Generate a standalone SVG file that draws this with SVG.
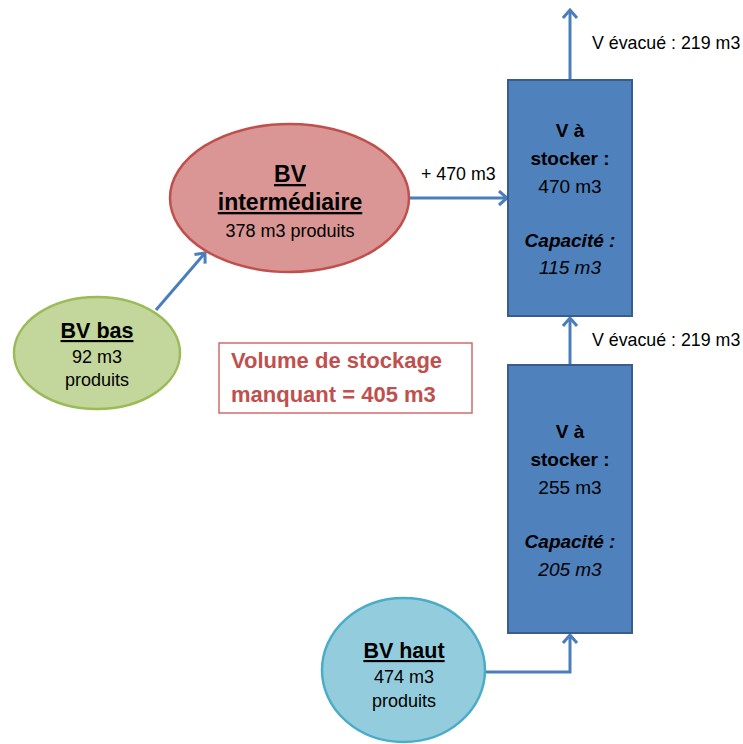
<svg xmlns="http://www.w3.org/2000/svg" width="743" height="744" viewBox="0 0 743 744">
<style>
text{font-family:"Liberation Sans",Arial,sans-serif;fill:#000}
.c{text-anchor:middle}
.b{font-weight:bold}
.i{font-style:italic}
.u{text-decoration:underline}
.lbl{font-size:17.8px}
.box{fill:#4F81BD;stroke:#385D8A;stroke-width:2}
.conn{fill:none;stroke:#4A7EBB;stroke-width:3}
.red{fill:#C0504D;font-weight:bold;font-size:22px}
</style>
<defs>
<marker id="ah" markerUnits="userSpaceOnUse" markerWidth="20" markerHeight="20" refX="14" refY="8" orient="auto">
<polyline points="6,1 14,8 6,15" fill="none" stroke="#4A7EBB" stroke-width="3"/>
</marker>
</defs>
<g id="connectors">
<line class="conn" x1="570" y1="80" x2="570" y2="10" marker-end="url(#ah)"/>
<line class="conn" x1="570" y1="365" x2="570" y2="318" marker-end="url(#ah)"/>
<line class="conn" x1="409" y1="198" x2="507" y2="198" marker-end="url(#ah)"/>
<line class="conn" x1="156" y1="310" x2="205" y2="253" marker-end="url(#ah)"/>
<path class="conn" d="M485,672 H570 V635" marker-end="url(#ah)"/>
<text class="lbl" x="592" y="49">V évacué : 219 m3</text>
<text class="lbl" x="592" y="346">V évacué : 219 m3</text>
<text class="lbl" x="421" y="180">+ 470 m3</text>
</g>
<g id="box-top">
<rect class="box" x="508" y="80" width="124" height="236"/>
<text class="c b" x="570" y="137" font-size="19">V à</text>
<text class="c b" x="570" y="165" font-size="19">stocker :</text>
<text class="c" x="570" y="193" font-size="19">470 m3</text>
<text class="c b i" x="570" y="247" font-size="19">Capacité :</text>
<text class="c i" x="570" y="274" font-size="19">115 m3</text>
</g>
<g id="box-bottom">
<rect class="box" x="508" y="365" width="124" height="268"/>
<text class="c b" x="570" y="438" font-size="19">V à</text>
<text class="c b" x="570" y="466" font-size="19">stocker :</text>
<text class="c" x="570" y="494" font-size="19">255 m3</text>
<text class="c b i" x="570" y="548" font-size="19">Capacité :</text>
<text class="c i" x="570" y="576" font-size="19">205 m3</text>
</g>
<g id="bv-intermediaire">
<ellipse cx="289.5" cy="198" rx="119.5" ry="74" fill="#D99694" stroke="#C0504D" stroke-width="2.5"/>
<text class="c b u" x="290" y="182" font-size="23">BV</text>
<text class="c b u" x="290" y="210" font-size="23">intermédiaire</text>
<text class="c" x="290" y="237" font-size="18">378 m3 produits</text>
</g>
<g id="bv-bas">
<ellipse cx="97" cy="353" rx="83" ry="56" fill="#C3D69B" stroke="#9BBB59" stroke-width="2.5"/>
<text class="c b u" x="97" y="338" font-size="21.5">BV bas</text>
<text class="c" x="97" y="363" font-size="18">92 m3</text>
<text class="c" x="97" y="386" font-size="18">produits</text>
</g>
<g id="bv-haut">
<ellipse cx="403.5" cy="670" rx="81.5" ry="72" fill="#93CDDD" stroke="#4BACC6" stroke-width="2.5"/>
<text class="c b u" x="404" y="658" font-size="21.5">BV haut</text>
<text class="c" x="404" y="683" font-size="18">474 m3</text>
<text class="c" x="404" y="707" font-size="18">produits</text>
</g>
<g id="manquant">
<rect x="219" y="343" width="253" height="70" fill="#FFFFFF" stroke="#D46A6A" stroke-width="1.5"/>
<text class="red" x="231" y="368">Volume de stockage</text>
<text class="red" x="231" y="402">manquant = 405 m3</text>
</g>
</svg>
